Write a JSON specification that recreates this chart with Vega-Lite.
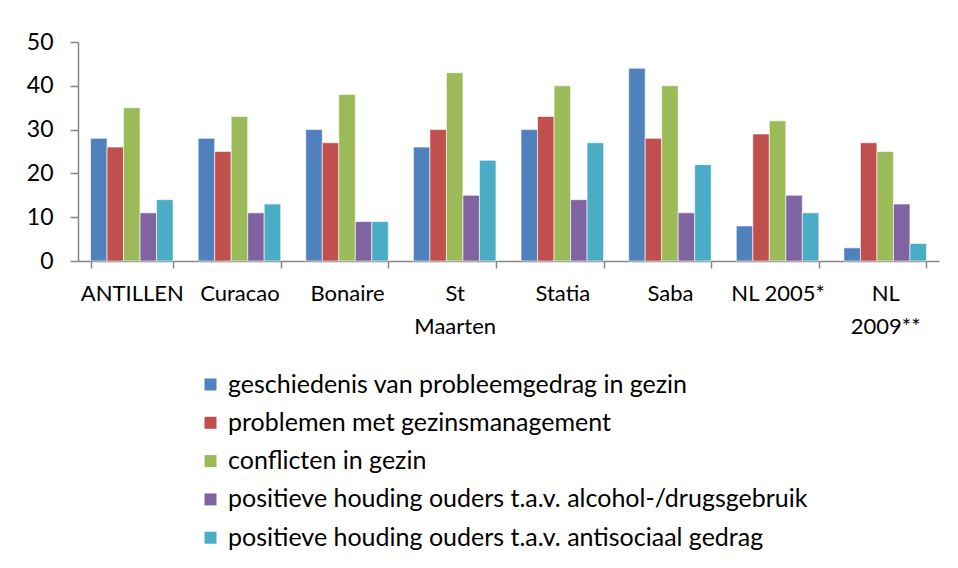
{
  "$schema": "https://vega.github.io/schema/vega-lite/v6.json",
  "width": 861,
  "height": 219,
  "autosize": {"type": "none"},
  "padding": {"left": 78, "top": 42, "right": 19, "bottom": 307},
  "background": "white",
  "config": {
    "view": {"stroke": null},
    "font": "Lato",
    "axis": {"grid": false, "domainColor": "#868686", "tickColor": "#868686", "labelColor": "#000000", "labelFont": "Lato", "domainWidth": 1.5, "tickWidth": 1.5}
  },
  "data": {
    "values": [
      {"regio": "ANTILLEN", "factor": "geschiedenis van probleemgedrag in gezin", "v": 28},
      {"regio": "ANTILLEN", "factor": "problemen met gezinsmanagement", "v": 26},
      {"regio": "ANTILLEN", "factor": "conflicten in gezin", "v": 35},
      {"regio": "ANTILLEN", "factor": "positieve houding ouders t.a.v. alcohol-/drugsgebruik", "v": 11},
      {"regio": "ANTILLEN", "factor": "positieve houding ouders t.a.v. antisociaal gedrag", "v": 14},
      {"regio": "Curacao", "factor": "geschiedenis van probleemgedrag in gezin", "v": 28},
      {"regio": "Curacao", "factor": "problemen met gezinsmanagement", "v": 25},
      {"regio": "Curacao", "factor": "conflicten in gezin", "v": 33},
      {"regio": "Curacao", "factor": "positieve houding ouders t.a.v. alcohol-/drugsgebruik", "v": 11},
      {"regio": "Curacao", "factor": "positieve houding ouders t.a.v. antisociaal gedrag", "v": 13},
      {"regio": "Bonaire", "factor": "geschiedenis van probleemgedrag in gezin", "v": 30},
      {"regio": "Bonaire", "factor": "problemen met gezinsmanagement", "v": 27},
      {"regio": "Bonaire", "factor": "conflicten in gezin", "v": 38},
      {"regio": "Bonaire", "factor": "positieve houding ouders t.a.v. alcohol-/drugsgebruik", "v": 9},
      {"regio": "Bonaire", "factor": "positieve houding ouders t.a.v. antisociaal gedrag", "v": 9},
      {"regio": "St Maarten", "factor": "geschiedenis van probleemgedrag in gezin", "v": 26},
      {"regio": "St Maarten", "factor": "problemen met gezinsmanagement", "v": 30},
      {"regio": "St Maarten", "factor": "conflicten in gezin", "v": 43},
      {"regio": "St Maarten", "factor": "positieve houding ouders t.a.v. alcohol-/drugsgebruik", "v": 15},
      {"regio": "St Maarten", "factor": "positieve houding ouders t.a.v. antisociaal gedrag", "v": 23},
      {"regio": "Statia", "factor": "geschiedenis van probleemgedrag in gezin", "v": 30},
      {"regio": "Statia", "factor": "problemen met gezinsmanagement", "v": 33},
      {"regio": "Statia", "factor": "conflicten in gezin", "v": 40},
      {"regio": "Statia", "factor": "positieve houding ouders t.a.v. alcohol-/drugsgebruik", "v": 14},
      {"regio": "Statia", "factor": "positieve houding ouders t.a.v. antisociaal gedrag", "v": 27},
      {"regio": "Saba", "factor": "geschiedenis van probleemgedrag in gezin", "v": 44},
      {"regio": "Saba", "factor": "problemen met gezinsmanagement", "v": 28},
      {"regio": "Saba", "factor": "conflicten in gezin", "v": 40},
      {"regio": "Saba", "factor": "positieve houding ouders t.a.v. alcohol-/drugsgebruik", "v": 11},
      {"regio": "Saba", "factor": "positieve houding ouders t.a.v. antisociaal gedrag", "v": 22},
      {"regio": "NL 2005*", "factor": "geschiedenis van probleemgedrag in gezin", "v": 8},
      {"regio": "NL 2005*", "factor": "problemen met gezinsmanagement", "v": 29},
      {"regio": "NL 2005*", "factor": "conflicten in gezin", "v": 32},
      {"regio": "NL 2005*", "factor": "positieve houding ouders t.a.v. alcohol-/drugsgebruik", "v": 15},
      {"regio": "NL 2005*", "factor": "positieve houding ouders t.a.v. antisociaal gedrag", "v": 11},
      {"regio": "NL 2009**", "factor": "geschiedenis van probleemgedrag in gezin", "v": 3},
      {"regio": "NL 2009**", "factor": "problemen met gezinsmanagement", "v": 27},
      {"regio": "NL 2009**", "factor": "conflicten in gezin", "v": 25},
      {"regio": "NL 2009**", "factor": "positieve houding ouders t.a.v. alcohol-/drugsgebruik", "v": 13},
      {"regio": "NL 2009**", "factor": "positieve houding ouders t.a.v. antisociaal gedrag", "v": 4}
    ]
  },
  "mark": {"type": "bar", "stroke": "white", "strokeOpacity": 0.6, "strokeWidth": 1},
  "encoding": {
    "x": {
      "field": "regio",
      "type": "nominal",
      "sort": null,
      "title": null,
      "scale": {"paddingInner": 0.233, "paddingOuter": 0.1165},
      "axis": {
        "labelAngle": 0,
        "labelFontSize": 22,
        "labelPadding": 15,
        "tickSize": 7,
        "tickBand": "extent",
        "labelLineHeight": 33,
        "labelBaseline": "top",
        "labelExpr": "datum.label == 'St Maarten' ? ['St', 'Maarten'] : datum.label == 'NL 2009**' ? ['NL', '2009**'] : datum.label"
      }
    },
    "xOffset": {"field": "factor", "type": "nominal", "sort": null},
    "y": {
      "field": "v",
      "type": "quantitative",
      "title": null,
      "scale": {"domain": [0, 50]},
      "axis": {"values": [0, 10, 20, 30, 40, 50], "labelFontSize": 23, "tickSize": 8, "labelPadding": 17}
    },
    "color": {
      "field": "factor",
      "type": "nominal",
      "sort": null,
      "scale": {
        "domain": ["geschiedenis van probleemgedrag in gezin", "problemen met gezinsmanagement", "conflicten in gezin", "positieve houding ouders t.a.v. alcohol-/drugsgebruik", "positieve houding ouders t.a.v. antisociaal gedrag"],
        "range": ["#4F81BD", "#C0504D", "#9BBB59", "#8064A2", "#4BACC6"]
      },
      "legend": {
        "title": null,
        "orient": "none",
        "legendX": 120,
        "legendY": 330,
        "symbolType": "square",
        "symbolSize": 144,
        "symbolStrokeWidth": 0,
        "labelFontSize": 25,
        "labelFont": "Lato",
        "labelColor": "#000000",
        "labelLimit": 750,
        "rowPadding": 12.3,
        "labelOffset": 5
      }
    }
  }
}
